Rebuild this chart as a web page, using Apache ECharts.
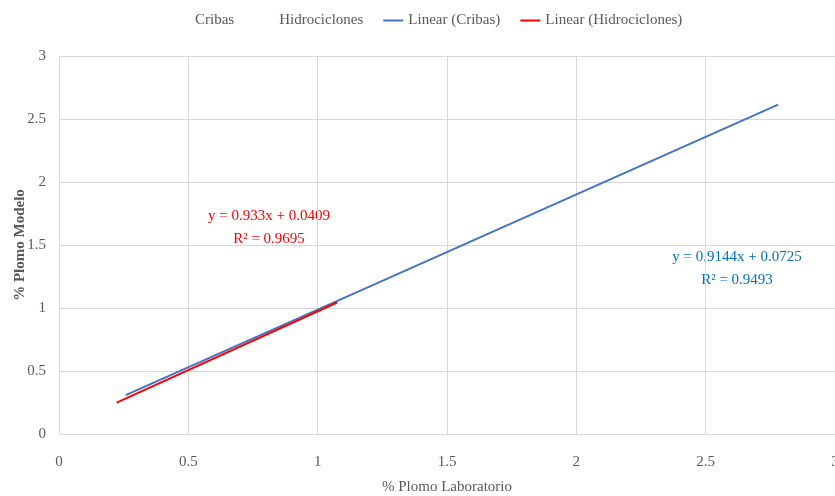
<!DOCTYPE html>
<html>
<head>
<meta charset="utf-8">
<script src="https://cdn.jsdelivr.net/npm/echarts@6/dist/echarts.min.js"></script>
<style>
  html, body { margin: 0; padding: 0; background: #fff; }
  #chart { width: 835px; height: 496px; }
</style>
</head>
<body>
<div id="chart"></div>
<script>
// Regression fits (slope, intercept) and the x-span covered by each data set
const cribasFit = [0.9144, 0.0725];
const cribasR2 = 0.9493;
const cribasXRange = [0.258, 2.78];

const hidroFit = [0.933, 0.0409];
const hidroR2 = 0.9695;
const hidroXRange = [0.223, 1.075];

const xTicks = [0, 0.5, 1, 1.5, 2, 2.5, 3];
const yTicks = [0, 0.5, 1, 1.5, 2, 2.5, 3];

const FONT = '"Liberation Serif", "Times New Roman", serif';
const GREY = '#595959';
const FS = 15;

function fitLine(fit, range) {
  return range.map(x => [x, fit[0] * x + fit[1]]);
}
function eqText(fit, r2) {
  return 'y = ' + fit[0] + 'x + ' + fit[1] + '\nR² = ' + r2;
}

const chart = echarts.init(document.getElementById('chart'), null, { renderer: 'canvas' });

const option = {
  animation: false,
  backgroundColor: '#fff',
  textStyle: { fontFamily: FONT },
  grid: { left: 59, right: 0, top: 56, bottom: 62, containLabel: false, outerBoundsMode: 'none' },
  legend: {
    top: 13,
    left: 170,
    padding: 0,
    itemWidth: 20,
    itemHeight: 2,
    itemGap: 20,
    textStyle: { fontFamily: FONT, fontSize: FS, color: GREY },
    data: [
      { name: 'Cribas', icon: 'rect', itemStyle: { color: 'rgba(0,0,0,0)', opacity: 0 } },
      { name: 'Hidrociclones', icon: 'rect', itemStyle: { color: 'rgba(0,0,0,0)', opacity: 0 } },
      { name: 'Linear (Cribas)', icon: 'rect' },
      { name: 'Linear (Hidrociclones)', icon: 'rect' }
    ]
  },
  xAxis: {
    type: 'value',
    min: xTicks[0],
    max: xTicks[xTicks.length - 1],
    interval: 0.5,
    name: '% Plomo Laboratorio',
    nameLocation: 'middle',
    nameGap: 46,
    nameMoveOverlap: false,
    nameTextStyle: { fontFamily: FONT, fontSize: FS, color: GREY },
    axisLine: { show: true, lineStyle: { color: '#d9d9d9' } },
    axisTick: { show: false },
    splitLine: { show: true, lineStyle: { color: '#d9d9d9' } },
    axisLabel: { fontFamily: FONT, fontSize: FS, color: GREY, margin: 21 }
  },
  yAxis: {
    type: 'value',
    min: yTicks[0],
    max: yTicks[yTicks.length - 1],
    interval: 0.5,
    name: '% Plomo Modelo',
    nameLocation: 'middle',
    nameGap: 31,
    nameRotate: 90,
    nameMoveOverlap: false,
    nameTextStyle: { fontFamily: FONT, fontSize: FS, color: GREY, fontWeight: 'bold' },
    axisLine: { show: false },
    axisTick: { show: false },
    splitLine: { show: true, lineStyle: { color: '#d9d9d9' } },
    axisLabel: { fontFamily: FONT, fontSize: FS, color: GREY, margin: 13 }
  },
  series: [
    { name: 'Cribas', type: 'scatter', data: [], symbolSize: 0 },
    { name: 'Hidrociclones', type: 'scatter', data: [], symbolSize: 0 },
    {
      name: 'Linear (Cribas)',
      type: 'line',
      data: fitLine(cribasFit, cribasXRange),
      showSymbol: false,
      symbol: 'none',
      lineStyle: { color: '#4472C4', width: 2 },
      itemStyle: { color: '#4472C4' },
      z: 2
    },
    {
      name: 'Linear (Hidrociclones)',
      type: 'line',
      data: fitLine(hidroFit, hidroXRange),
      showSymbol: false,
      symbol: 'none',
      lineStyle: { color: '#FF0000', width: 2 },
      itemStyle: { color: '#FF0000' },
      z: 3
    }
  ],
  graphic: [
    {
      type: 'text',
      x: 269, y: 205,
      style: {
        text: eqText(hidroFit, hidroR2),
        fontFamily: FONT, fontSize: FS, fill: '#FF0000',
        align: 'center', verticalAlign: 'top', lineHeight: 23
      }
    },
    {
      type: 'text',
      x: 737, y: 246,
      style: {
        text: eqText(cribasFit, cribasR2),
        fontFamily: FONT, fontSize: FS, fill: '#0070C0',
        align: 'center', verticalAlign: 'top', lineHeight: 23
      }
    }
  ]
};

chart.setOption(option);
</script>
</body>
</html>
